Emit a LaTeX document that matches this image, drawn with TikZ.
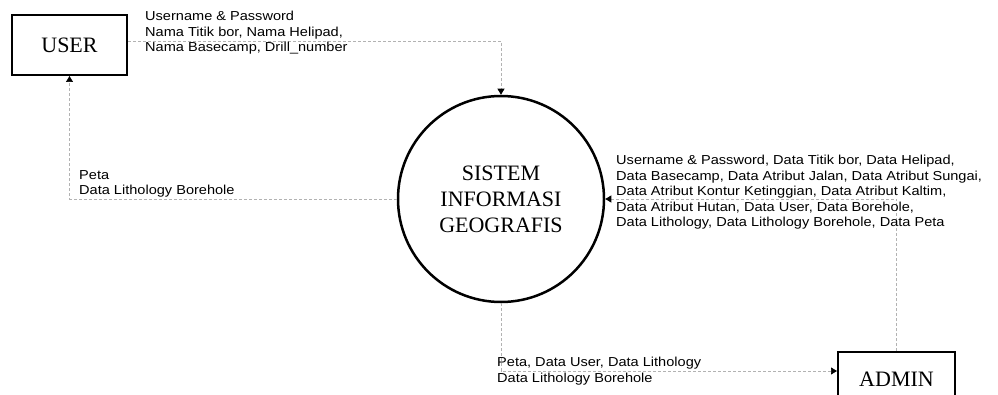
\documentclass[tikz,border=0pt]{standalone}
\usepackage{fontspec}
\setmainfont{Liberation Serif}
\newfontfamily\dfdsans[FakeStretch=1.12]{Liberation Sans}
\usetikzlibrary{arrows.meta}
\tikzset{
  entity/.style={draw, line width=2pt, minimum width=115pt, minimum height=60pt,
    font=\fontsize{22}{26}\selectfont},
  process/.style={draw, circle, line width=2.5pt, minimum size=206pt, inner sep=0pt,
    align=center, font=\fontsize{22}{26}\selectfont},
  flowtext/.style={anchor=north west, inner sep=0pt, align=left,
    font=\dfdsans\fontsize{13}{15.5}\selectfont},
  flow/.style={gray!60, densely dashed, line width=0.7pt,
    -{Triangle[color=black, width=7pt, length=6pt]}}
}
\begin{document}
\begin{tikzpicture}[x=1pt,y=-1pt]
  \useasboundingbox (0,0) rectangle (998,395);
  % entities & process
  \node[entity] (user) at (69.5,45) {USER};
  \node[entity, minimum width=117pt, minimum height=54pt] (admin) at (896.5,379) {ADMIN};
  \node[process] (sig) at (501,199) {SISTEM\\INFORMASI\\GEOGRAFIS};
  % data flows
  \draw[flow] ([yshift=4pt]user.east) -| (sig.north);
  \draw[flow] (sig.west) -| (user.south);
  \draw[flow] (admin.north) |- (sig.east);
  \draw[flow] (sig.south) |- ([yshift=8pt]admin.west);
  % labels
  \node[flowtext] (lbllogin) at (145,11) {Username \& Password\\Nama Titik bor, Nama Helipad,\\Nama Basecamp, Drill\_number};
  \node[flowtext] (lblpeta) at (79,170) {Peta\\Data Lithology Borehole};
  \node[flowtext] (lbladmin) at (616,155) {Username \& Password, Data Titik bor, Data Helipad,\\Data Basecamp, Data Atribut Jalan, Data Atribut Sungai,\\Data Atribut Kontur Ketinggian, Data Atribut Kaltim,\\Data Atribut Hutan, Data User, Data Borehole,\\Data Lithology, Data Lithology Borehole, Data Peta};
  \node[flowtext] (lbllap) at (497,357) {Peta, Data User, Data Lithology\\Data Lithology Borehole};
\end{tikzpicture}
\end{document}
